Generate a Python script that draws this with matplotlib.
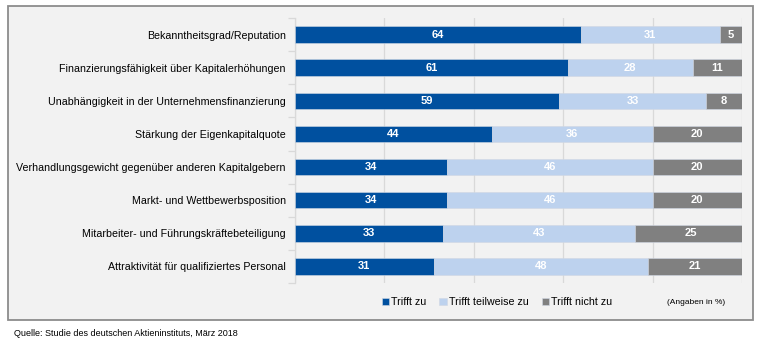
import matplotlib.pyplot as plt
from matplotlib.patches import Rectangle
import numpy as np

plt.rcParams['font.family'] = ['Liberation Sans', 'DejaVu Sans']

categories = [
    "Bekanntheitsgrad/Reputation",
    "Finanzierungsfähigkeit über Kapitalerhöhungen",
    "Unabhängigkeit in der Unternehmensfinanzierung",
    "Stärkung der Eigenkapitalquote",
    "Verhandlungsgewicht gegenüber anderen Kapitalgebern",
    "Markt- und Wettbewerbsposition",
    "Mitarbeiter- und Führungskräftebeteiligung",
    "Attraktivität für qualifiziertes Personal",
]
trifft_zu = [64, 61, 59, 44, 34, 34, 33, 31]
teilweise = [31, 28, 33, 36, 46, 46, 43, 48]
nicht_zu = [5, 11, 8, 20, 20, 20, 25, 21]

series = [
    ("Trifft zu", trifft_zu, "#00509f"),
    ("Trifft teilweise zu", teilweise, "#bdd2ee"),
    ("Trifft nicht zu", nicht_zu, "#808080"),
]

W, H = 762, 345
fig = plt.figure(figsize=(W / 100, H / 100), dpi=100)
fig.patch.set_facecolor("white")

# grey panel behind the chart
fig.patches.append(Rectangle((8 / W, 1 - 320 / H), 745 / W, 314 / H,
                             transform=fig.transFigure, facecolor="#f2f2f2",
                             edgecolor="#8c8c8c", linewidth=1.3, zorder=-10))

ax = fig.add_axes([295 / W, 1 - 283 / H, 447 / W, 265 / H])
ax.set_facecolor("none")

y = np.arange(len(categories))
left = np.zeros(len(categories))
handles = []
for name, vals, col in series:
    vals = np.array(vals)
    b = ax.barh(y, vals, left=left, height=0.5, color=col, edgecolor="#d0d8e4",
                linewidth=0.4, label=name, zorder=3)
    handles.append(b)
    for yi, l, v in zip(y, left, vals):
        ax.text(l + v / 2, yi, str(v), ha="center", va="center", color="white",
                fontsize=8, fontweight="bold", zorder=4)
    left = left + vals

ax.set_xlim(0, 100)
ax.set_ylim(len(categories) - 0.5, -0.5)
ax.set_xticks(np.arange(0, 101, 20))
ax.xaxis.grid(True, color="#d9d9d9", linewidth=0.9, zorder=1)
ax.tick_params(axis="x", length=0, labelbottom=False)

ax.set_yticks(y)
ax.set_yticklabels(categories, fontsize=7.7)
ax.set_yticks(np.arange(-0.5, len(categories), 1), minor=True)
ax.tick_params(axis="y", which="major", length=0, pad=6.5)
ax.tick_params(axis="y", which="minor", length=5, color="#d9d9d9", width=0.9)

for s in ["top", "right", "bottom"]:
    ax.spines[s].set_visible(False)
ax.spines["left"].set_color("#d9d9d9")
ax.spines["left"].set_linewidth(0.9)

fig.legend(handles=handles, loc="center", bbox_to_anchor=(497 / W, 1 - 302 / H),
           ncol=3, frameon=False, fontsize=7.7, handlelength=0.7, handleheight=0.7,
           handletextpad=0.2, columnspacing=1.2)
fig.text(696 / W, 1 - 302 / H, "(Angaben in %)", ha="center", va="center", fontsize=6)
fig.text(14 / W, 1 - 333 / H, "Quelle: Studie des deutschen Aktieninstituts, März 2018",
         ha="left", va="center", fontsize=6.5)

fig.savefig("out.png", dpi=100)
